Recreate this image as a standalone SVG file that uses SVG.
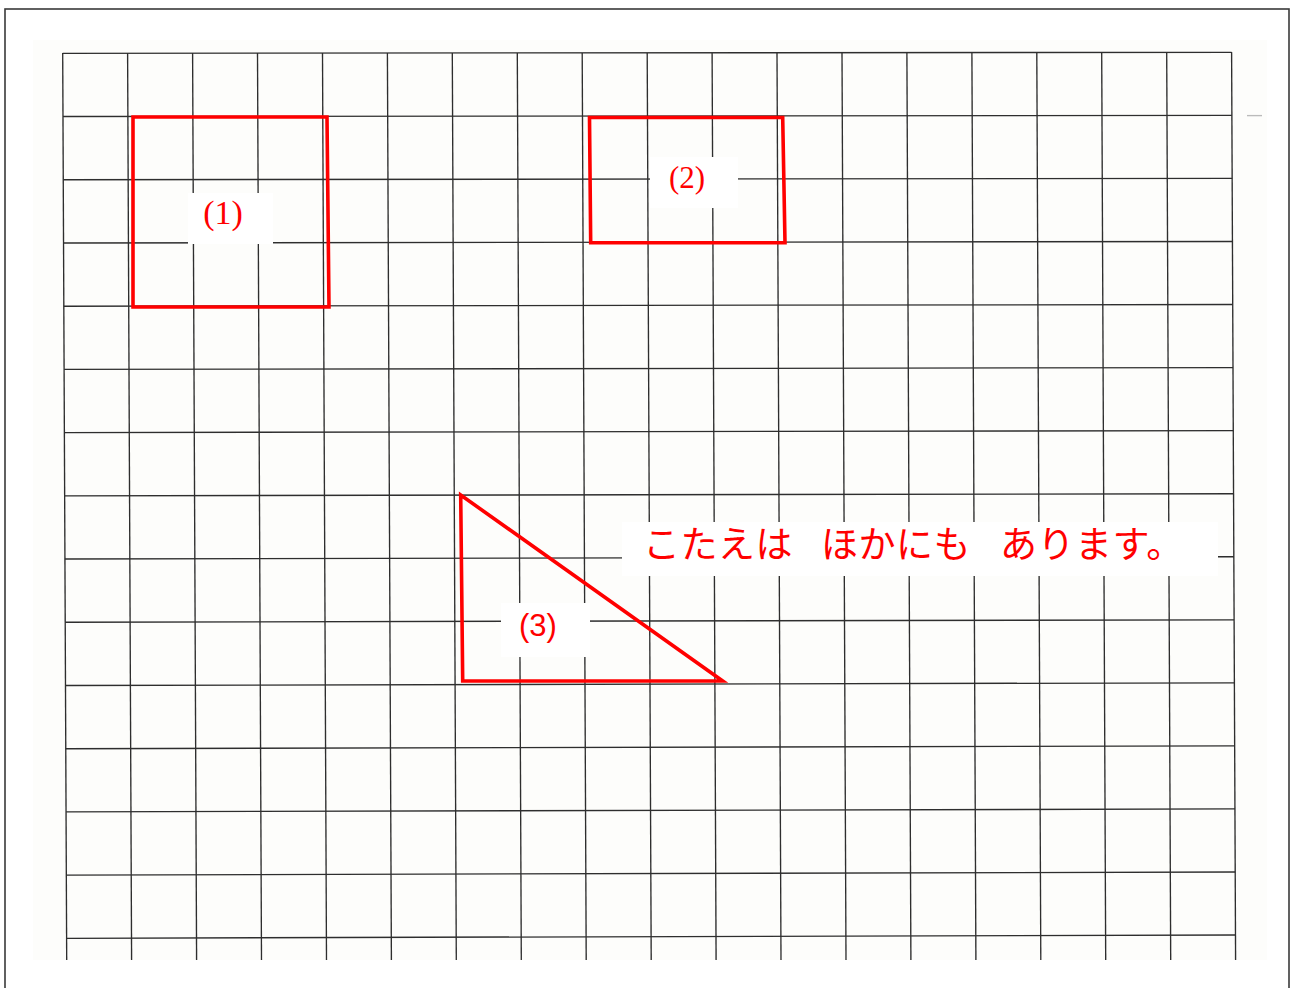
<svg xmlns="http://www.w3.org/2000/svg" width="1292" height="988" viewBox="0 0 1292 988">
<style>
.g line{stroke:#2e2e2e;stroke-width:1.35;fill:none}
.red{stroke:#ff0000;stroke-width:3.6;fill:none;stroke-linejoin:miter}
.wb{fill:#ffffff}
.lbl{fill:#ff0000}
</style>
<rect x="0" y="0" width="1292" height="988" fill="#ffffff"/>
<rect id="frame" x="5" y="9" width="1284" height="1000" fill="none" stroke="#3a3a3a" stroke-width="1.6"/>
<rect x="33" y="40" width="1234" height="920" fill="#fdfdfb"/>
<g id="grid" class="g">
<line x1="62.7" y1="53" x2="66.7" y2="960"/>
<line x1="127.6" y1="53" x2="131.6" y2="960"/>
<line x1="192.6" y1="53" x2="196.6" y2="960"/>
<line x1="257.5" y1="53" x2="261.5" y2="960"/>
<line x1="322.5" y1="53" x2="326.5" y2="960"/>
<line x1="387.4" y1="53" x2="391.4" y2="960"/>
<line x1="452.3" y1="53" x2="456.3" y2="960"/>
<line x1="517.3" y1="53" x2="521.3" y2="960"/>
<line x1="582.2" y1="53" x2="586.2" y2="960"/>
<line x1="647.2" y1="53" x2="651.2" y2="960"/>
<line x1="712.1" y1="53" x2="716.1" y2="960"/>
<line x1="777.0" y1="53" x2="781.0" y2="960"/>
<line x1="842.0" y1="53" x2="846.0" y2="960"/>
<line x1="906.9" y1="53" x2="910.9" y2="960"/>
<line x1="971.9" y1="53" x2="975.9" y2="960"/>
<line x1="1036.8" y1="53" x2="1040.8" y2="960"/>
<line x1="1101.7" y1="53" x2="1105.7" y2="960"/>
<line x1="1166.7" y1="52" x2="1170.7" y2="960"/>
<line x1="1231.6" y1="52" x2="1235.6" y2="960"/>
<line x1="62.7" y1="53.3" x2="1231.6" y2="52.3"/>
<line x1="63.0" y1="116.5" x2="1231.9" y2="115.4"/>
<line x1="63.3" y1="179.7" x2="1232.2" y2="178.4"/>
<line x1="63.5" y1="243.0" x2="1232.4" y2="241.5"/>
<line x1="63.8" y1="306.2" x2="1232.7" y2="304.5"/>
<line x1="64.1" y1="369.4" x2="1233.0" y2="367.6"/>
<line x1="64.4" y1="432.6" x2="1233.3" y2="430.6"/>
<line x1="64.7" y1="495.8" x2="1233.6" y2="493.7"/>
<line x1="64.9" y1="559.0" x2="1233.8" y2="556.7"/>
<line x1="65.2" y1="622.2" x2="1234.1" y2="619.8"/>
<line x1="65.5" y1="685.5" x2="1234.4" y2="682.8"/>
<line x1="65.8" y1="748.7" x2="1234.7" y2="745.9"/>
<line x1="66.1" y1="811.9" x2="1235.0" y2="808.9"/>
<line x1="66.3" y1="875.1" x2="1235.2" y2="872.0"/>
<line x1="66.6" y1="938.3" x2="1235.5" y2="935.0"/>
<line x1="1247" y1="115.6" x2="1262" y2="115.6" style="stroke:#bbb"/>
</g>
<g id="label-masks">
<rect class="wb" x="188" y="193" width="85" height="51"/>
<rect class="wb" x="650" y="157" width="88" height="51"/>
<rect class="wb" x="501" y="603" width="89" height="54"/>
<rect class="wb" x="622" y="522" width="596" height="54"/>
</g>
<g id="shape1">
<polygon class="red" points="133,117 327,117 329,307 133,307"/>
<text class="lbl" x="223" y="224" font-family="Liberation Serif, serif" font-size="34" text-anchor="middle">(1)</text>
</g>
<g id="shape2">
<polygon class="red" points="589.5,117.5 782.7,117.5 785,242.7 590.7,242.7"/>
<text class="lbl" x="687" y="188" font-family="Liberation Serif, serif" font-size="31" text-anchor="middle">(2)</text>
</g>
<g id="shape3">
<polygon class="red" points="460.7,495 462.7,681 722.7,681"/>
<text class="lbl" x="538" y="636" font-family="Liberation Sans, sans-serif" font-size="31" text-anchor="middle">(3)</text>
</g>
<g id="note">
<text class="lbl" y="558" font-family="Noto Sans CJK JP, sans-serif" font-size="37" letter-spacing="0.5"><tspan x="643">こたえは　</tspan><tspan x="821">ほかにも　</tspan><tspan x="1000">あります。</tspan></text>
</g>
</svg>
